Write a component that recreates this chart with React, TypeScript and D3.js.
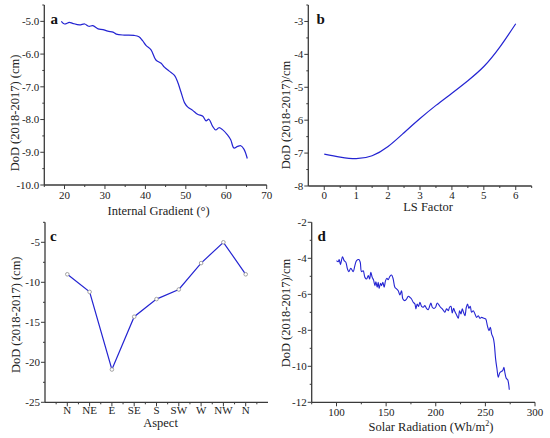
import React from "react";
import * as d3 from "d3";

// ---------- Data ----------
// Panel a: Internal Gradient vs DoD
const gradientX = [19.2, 20, 21.2, 22, 23.7, 25, 26, 27, 28.3, 29.5, 30.7, 32, 32.8, 34.8, 37.2, 38.4, 39.3, 40.2, 41.4, 42.6, 43.9, 44.7, 45.9, 47.2, 48, 48.8, 49.7, 50.5, 51.7, 52.9, 54.2, 55, 55.7, 56.6, 57.4, 58.2, 59, 60.3, 61.1, 61.9, 62.8, 63.6, 64.4, 65.2];
const gradientY = [-5.0, -5.08, -5.03, -5.06, -5.11, -5.08, -5.15, -5.13, -5.23, -5.25, -5.3, -5.33, -5.39, -5.42, -5.43, -5.47, -5.59, -5.74, -5.87, -6.18, -6.28, -6.4, -6.52, -6.65, -6.86, -7.16, -7.49, -7.62, -7.72, -7.84, -7.9, -8.04, -7.99, -8.2, -8.32, -8.25, -8.3, -8.47, -8.62, -8.87, -8.82, -8.8, -8.91, -9.19];

// Panel b: LS Factor vs DoD
const lsX = [0, 0.5, 1, 1.5, 2, 2.5, 3, 3.5, 4, 4.5, 5, 5.5, 6];
const lsY = [-7.03, -7.12, -7.17, -7.08, -6.8, -6.38, -5.95, -5.55, -5.18, -4.8, -4.37, -3.78, -3.07];

// Panel c: Aspect vs DoD
const aspectCategories = ["N", "NE", "E", "SE", "S", "SW", "W", "NW", "N"];
const aspectY = [-9, -11.2, -20.9, -14.3, -12.1, -10.9, -7.6, -5, -9];

// Panel d: Solar Radiation vs DoD
const solarX = [100, 101.7, 102.7, 104, 106, 107.7, 109.4, 111, 112.4, 114.4, 116.8, 118.5, 120.2, 122.5, 123.9, 125.2, 126.9, 128.6, 130.3, 132, 133.3, 134.6, 136, 137.3, 138.7, 139.7, 141, 142, 143, 144.4, 145.4, 146.7, 148, 149.4, 150.8, 152, 153.8, 155.5, 157.1, 158.8, 160.5, 162.2, 163.9, 165.5, 166.9, 168.9, 170.6, 172.3, 174, 175.6, 177.3, 179, 180, 181.3, 182.7, 184, 185.7, 187.4, 189, 190.7, 192.4, 194, 195.1, 196.5, 198.2, 199.8, 201.5, 203.2, 204.8, 206.6, 207.9, 209.2, 210.9, 212.6, 213.9, 215.3, 216.6, 218, 219.3, 221, 222.7, 224, 225.4, 226.7, 228, 229.4, 230.8, 232.1, 233.4, 234.8, 236.1, 237.8, 239.5, 241.2, 242.9, 244.5, 246.2, 248.6, 250.3, 252, 253.6, 255, 256.3, 258, 259, 260.3, 261.7, 263, 264.4, 265.7, 267.4, 268.7, 269.7, 271.1, 272.4, 274.1];
const solarY = [-4.13, -4.19, -4.07, -4.35, -3.91, -4.13, -4.22, -4.59, -4.74, -4.56, -4.74, -4.41, -4.13, -4.07, -4.22, -4.74, -4.69, -5.06, -5.15, -4.96, -5.15, -4.78, -5.06, -5.2, -5.52, -5.3, -5.61, -5.33, -5.67, -5.39, -5.52, -5.33, -5.61, -5.24, -5.11, -5.19, -5.0, -4.93, -5.15, -5.61, -5.7, -5.8, -6.04, -5.8, -6.26, -6.35, -6.26, -6.11, -6.17, -6.26, -6.44, -6.54, -6.81, -6.54, -6.67, -6.44, -6.67, -6.72, -6.63, -6.78, -6.85, -6.63, -6.48, -6.72, -6.78, -6.72, -6.48, -6.59, -6.72, -6.81, -6.91, -7.0, -6.81, -6.91, -6.72, -6.67, -7.04, -6.78, -6.96, -7.15, -7.33, -6.91, -7.09, -6.81, -7.0, -7.19, -6.72, -6.54, -6.78, -6.67, -7.0, -6.91, -7.09, -7.28, -7.19, -7.33, -7.28, -7.33, -7.37, -7.74, -8.02, -7.83, -8.2, -8.44, -8.76, -9.59, -10.15, -10.61, -10.37, -10.3, -10.24, -10.06, -10.37, -10.67, -10.74, -11.3];

// Tick values
const aXTicks = [20, 30, 40, 50, 60, 70];
const aYTicks = [-10, -9, -8, -7, -6, -5];
const bXTicks = [0, 1, 2, 3, 4, 5, 6];
const bYTicks = [-8, -7, -6, -5, -4, -3];
const cYTicks = [-25, -20, -15, -10, -5];
const dXTicks = [100, 150, 200, 250, 300];
const dYTicks = [-12, -10, -8, -6, -4, -2];

const FONT = "'Liberation Serif', 'Times New Roman', serif";
const LINE = "#2424d2";
const AX = "#3a3a3a";

const hy = (s: string) => s.replace("\u2212", "-");

type PanelProps = {
  x: d3.ScaleLinear<number, number>;
  y: d3.ScaleLinear<number, number>;
  xMajor: number[];
  xMinor: number[];
  yMajor: number[];
  yMinor: number[];
  xLabel: (v: number, i: number) => string;
  yLabel: (v: number) => string;
  xTickOffset: number;
  xTitle: React.ReactNode;
  xTitlePos: [number, number];
  yTitle: string;
  yTitlePos: [number, number];
  letter: string;
  letterPos: [number, number];
  children?: React.ReactNode;
};

function Panel(p: PanelProps) {
  const [x0, x1] = p.x.range();
  const [y0, y1] = p.y.range();
  return (
    <g>
      {p.children}
      <line x1={x0} x2={x1} y1={y0} y2={y0} stroke={AX} strokeWidth={1.3} />
      <line x1={x0} x2={x0} y1={y0} y2={y1} stroke={AX} strokeWidth={1.3} />
      {p.xMajor.map((v, i) => (
        <g key={"xm" + i}>
          <line x1={p.x(v)} x2={p.x(v)} y1={y0} y2={y0 + 4} stroke={AX} strokeWidth={1} />
          <text x={p.x(v)} y={y0 + p.xTickOffset} textAnchor="middle" fontSize={11} fontFamily={FONT} fill="#222">
            {p.xLabel(v, i)}
          </text>
        </g>
      ))}
      {p.xMinor.map((v, i) => (
        <line key={"xn" + i} x1={p.x(v)} x2={p.x(v)} y1={y0} y2={y0 + 2} stroke={AX} strokeWidth={1} />
      ))}
      {p.yMajor.map((v, i) => (
        <g key={"ym" + i}>
          <line x1={x0 - 4} x2={x0} y1={p.y(v)} y2={p.y(v)} stroke={AX} strokeWidth={1} />
          <text x={x0 - 5} y={p.y(v) + 3.8} textAnchor="end" fontSize={11} fontFamily={FONT} fill="#222">
            {p.yLabel(v)}
          </text>
        </g>
      ))}
      {p.yMinor.map((v, i) => (
        <line key={"yn" + i} x1={x0 - 2} x2={x0} y1={p.y(v)} y2={p.y(v)} stroke={AX} strokeWidth={1} />
      ))}
      <text x={p.xTitlePos[0]} y={p.xTitlePos[1]} textAnchor="middle" fontSize={12.5} fontFamily={FONT} fill="#222">
        {p.xTitle}
      </text>
      <text
        transform={`translate(${p.yTitlePos[0]},${p.yTitlePos[1]}) rotate(-90)`}
        textAnchor="middle"
        fontSize={12.5}
        fontFamily={FONT}
        fill="#222"
      >
        {p.yTitle}
      </text>
      <text x={p.letterPos[0]} y={p.letterPos[1]} fontSize={15} fontWeight="bold" fontFamily={FONT} fill="#111">
        {p.letter}
      </text>
    </g>
  );
}

export default function App() {
  // Panel a
  const ax = d3.scaleLinear().domain([15, 70]).range([44.3, 266.7]);
  const ay = d3.scaleLinear().domain([-10, -4.5]).range([185, 5]);
  const aLine = d3
    .line<number>()
    .x((_, i) => ax(gradientX[i]))
    .y((d) => ay(d))
    .curve(d3.curveCatmullRom)(gradientY);

  // Panel b
  const bx = d3.scaleLinear().domain([-0.5, 6.5]).range([308.3, 531.7]);
  const by = d3.scaleLinear().domain([-8, -2.5]).range([186, 5]);
  const bLine = d3
    .line<number>()
    .x((_, i) => bx(lsX[i]))
    .y((d) => by(d))
    .curve(d3.curveNatural)(lsY);

  // Panel c
  const cx = d3.scaleLinear().domain([0, 10]).range([45, 268]);
  const cy = d3.scaleLinear().domain([-25, -2.5]).range([402.3, 222.3]);
  const cIdx = aspectCategories.map((_, i) => i + 1);
  const cLine = d3
    .line<number>()
    .x((_, i) => cx(cIdx[i]))
    .y((d) => cy(d))(aspectY);

  // Panel d
  const dx = d3.scaleLinear().domain([75, 300]).range([311.7, 535]);
  const dy = d3.scaleLinear().domain([-12, -2]).range([402.3, 222.3]);
  const dLine = d3
    .line<number>()
    .x((_, i) => dx(solarX[i]))
    .y((d) => dy(d))
    .curve(d3.curveCatmullRom)(solarY);

  const f1 = d3.format(".1f");
  const f0 = d3.format("d");

  return (
    <svg
      width={550}
      height={438}
      style={{ position: "fixed", left: 0, top: 0, background: "#fff" }}
    >
      <rect width={550} height={438} fill="#fff" />
      <Panel
        x={ax}
        y={ay}
        xMajor={aXTicks}
        xMinor={aXTicks.map((v) => v - 5)}
        yMajor={aYTicks}
        yMinor={aYTicks.map((v) => v + 0.5)}
        xLabel={(v) => hy(f0(v))}
        yLabel={(v) => hy(f1(v))}
        xTickOffset={14}
        xTitle="Internal Gradient (°)"
        xTitlePos={[158.7, 215]}
        yTitle="DoD (2018-2017) (cm)"
        yTitlePos={[19, 113]}
        letter="a"
        letterPos={[50.5, 24]}
      >
        <path d={aLine || ""} fill="none" stroke={LINE} strokeWidth={1.2} />
      </Panel>
      <Panel
        x={bx}
        y={by}
        xMajor={bXTicks}
        xMinor={bXTicks.map((v) => v + 0.5)}
        yMajor={bYTicks}
        yMinor={bYTicks.map((v) => v + 0.5)}
        xLabel={(v) => hy(f0(v))}
        yLabel={(v) => hy(f0(v))}
        xTickOffset={12.5}
        xTitle="LS Factor"
        xTitlePos={[428, 210.5]}
        yTitle="DoD (2018-2017)/cm"
        yTitlePos={[290, 115]}
        letter="b"
        letterPos={[316.5, 24]}
      >
        <path d={bLine || ""} fill="none" stroke={LINE} strokeWidth={1.2} />
      </Panel>
      <Panel
        x={cx}
        y={cy}
        xMajor={cIdx}
        xMinor={[...cIdx.map((v) => v - 0.5), 9.5]}
        yMajor={cYTicks}
        yMinor={cYTicks.map((v) => v + 2.5)}
        xLabel={(_, i) => aspectCategories[i]}
        yLabel={(v) => hy(f0(v))}
        xTickOffset={12}
        xTitle="Aspect"
        xTitlePos={[160.5, 426.5]}
        yTitle="DoD (2018-2017) (cm)"
        yTitlePos={[20, 314.8]}
        letter="c"
        letterPos={[50, 240.7]}
      >
        <path d={cLine || ""} fill="none" stroke={LINE} strokeWidth={1.2} />
        {aspectY.map((v, i) => (
          <circle key={i} cx={cx(cIdx[i])} cy={cy(v)} r={1.8} fill="#fff" stroke="#999" strokeWidth={0.9} />
        ))}
      </Panel>
      <Panel
        x={dx}
        y={dy}
        xMajor={dXTicks}
        xMinor={dXTicks.map((v) => v - 25)}
        yMajor={dYTicks}
        yMinor={dYTicks.map((v) => v + 1).filter((v) => v < -2)}
        xLabel={(v) => hy(f0(v))}
        yLabel={(v) => hy(f0(v))}
        xTickOffset={14}
        xTitle={
          <>
            Solar Radiation (Wh/m
            <tspan fontSize={8} dy={-4.5}>2</tspan>
            <tspan dy={4.5}>)</tspan>
          </>
        }
        xTitlePos={[431, 430.5]}
        yTitle="DoD (2018-2017)/cm"
        yTitlePos={[290, 313]}
        letter="d"
        letterPos={[317.5, 240.7]}
      >
        <path d={dLine || ""} fill="none" stroke={LINE} strokeWidth={1.1} />
      </Panel>
    </svg>
  );
}
